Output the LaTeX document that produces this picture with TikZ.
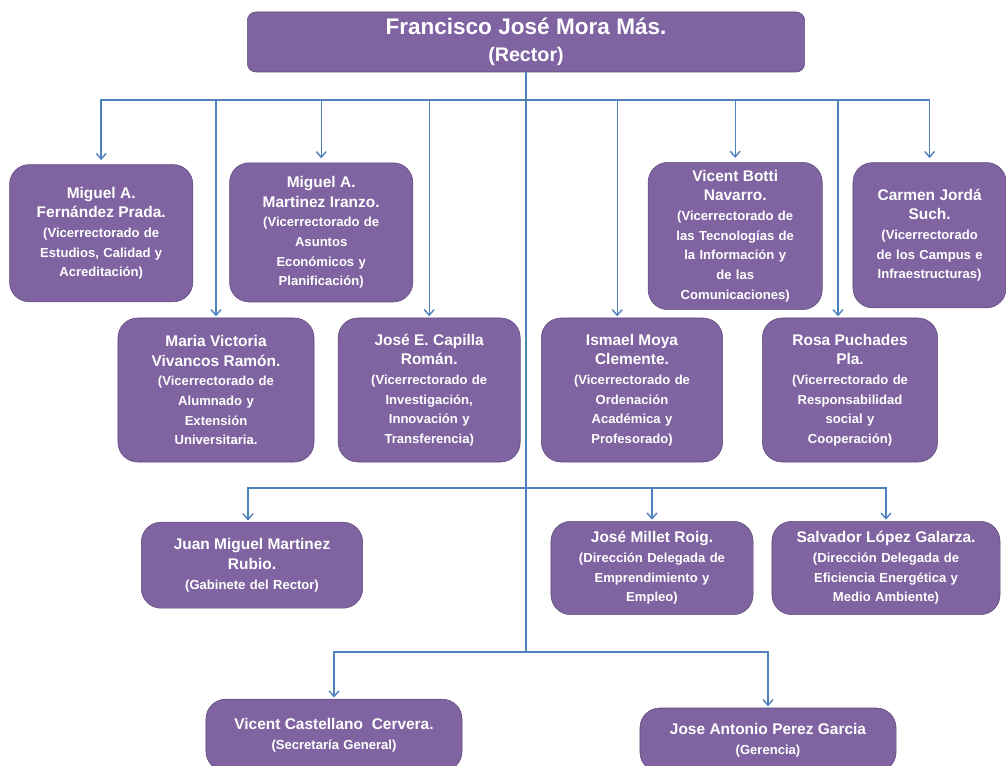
\documentclass[tikz,border=0pt]{standalone}
\usepackage{fontspec}
\setmainfont{Liberation Sans}
\usetikzlibrary{arrows.meta, positioning}
\definecolor{boxpurple}{RGB}{128, 100, 162}
\definecolor{boxedge}{RGB}{96, 74, 125}
\definecolor{lineblue}{RGB}{79, 129, 189}
\newcommand{\nombre}[1]{{\fontsize{11}{14}\selectfont #1}}
\newcommand{\cargo}[1]{{\fontsize{9.3}{14}\selectfont #1}}
\tikzset{
  puesto/.style={draw=boxedge, fill=boxpurple, rounded corners=14pt, text=white, align=center, inner sep=4pt, font=\bfseries\fontsize{9.3}{14}\selectfont},
  enlace/.style={draw=lineblue, line width=1pt},
  flecha/.style={enlace, -{Straight Barb[length=4pt,width=7pt]}, shorten >=3pt},
}

\begin{document}
\begin{tikzpicture}
  \useasboundingbox (0, 0) rectangle (25.15, -19.15);

  % Rector
  \node[puesto, rounded corners=6pt, text width=13.65cm, minimum height=1.5cm, font=\bfseries\fontsize{14}{19}\selectfont] (rector) at (13.15, -1.05) {
    {\fontsize{16}{19}\selectfont Francisco José Mora Más.}\\(Rector)
  };

  % Vicerrectorados, primera fila
  \node[puesto, text width=4.3cm, minimum height=3.43cm] (fernandez) at (2.53, -5.83) {
    \nombre{Miguel A.\\Fernández Prada.}\\\cargo{(Vicerrectorado de\\Estudios, Calidad y\\Acreditación)}
  };
  \node[puesto, text width=4.3cm, minimum height=3.48cm] (martinez) at (8.03, -5.81) {
    \nombre{Miguel A.\\Martinez Iranzo.}\\\cargo{(Vicerrectorado de\\Asuntos\\Económicos y\\Planificación)}
  };
  \node[puesto, text width=4.07cm, minimum height=3.68cm] (botti) at (18.38, -5.9) {
    \nombre{Vicent Botti\\Navarro.}\\\cargo{(Vicerrectorado de\\las Tecnologías de\\la Información y\\de las\\Comunicaciones)}
  };
  \node[puesto, text width=3.55cm, minimum height=3.63cm] (jorda) at (23.24, -5.88) {
    \nombre{Carmen Jordá\\Such.}\\\cargo{(Vicerrectorado\\de los Campus e\\Infraestructuras)}
  };

  % Vicerrectorados, segunda fila
  \node[puesto, text width=4.62cm, minimum height=3.6cm] (vivancos) at (5.4, -9.75) {
    \nombre{Maria Victoria\\Vivancos Ramón.}\\\cargo{(Vicerrectorado de\\Alumnado y\\Extensión\\Universitaria.}
  };
  \node[puesto, text width=4.27cm, minimum height=3.6cm] (capilla) at (10.73, -9.75) {
    \nombre{José E. Capilla\\Román.}\\\cargo{(Vicerrectorado de\\Investigación,\\Innovación y\\Transferencia)}
  };
  \node[puesto, text width=4.25cm, minimum height=3.6cm] (moya) at (15.8, -9.75) {
    \nombre{Ismael Moya\\Clemente.}\\\cargo{(Vicerrectorado de\\Ordenación\\Académica y\\Profesorado)}
  };
  \node[puesto, text width=4.1cm, minimum height=3.6cm] (puchades) at (21.25, -9.75) {
    \nombre{Rosa Puchades\\Pla.}\\\cargo{(Vicerrectorado de\\Responsabilidad\\social y\\Cooperación)}
  };

  % Gabinete y direcciones delegadas
  \node[puesto, text width=5.25cm, minimum height=2.15cm] (gabinete) at (6.3, -14.13) {
    \nombre{Juan Miguel Martinez\\Rubio.}\\\cargo{(Gabinete del Rector)}
  };
  \node[puesto, text width=4.77cm, minimum height=2.33cm] (millet) at (16.3, -14.2) {
    \nombre{José Millet Roig.}\\\cargo{(Dirección Delegada de\\Emprendimiento y\\Empleo)}
  };
  \node[puesto, text width=5.42cm, minimum height=2.33cm] (lopez) at (22.15, -14.2) {
    \nombre{Salvador López Galarza.}\\\cargo{(Dirección Delegada de\\Eficiencia Energética y\\Medio Ambiente)}
  };

  % Secretaria y gerencia
  \node[puesto, text width=6.12cm, minimum height=1.8cm] (secretaria) at (8.35, -18.38) {
    \nombre{Vicent Castellano\ \ Cervera.}\\\cargo{(Secretaría General)}
  };
  \node[puesto, text width=6.12cm, minimum height=1.6cm] (gerencia) at (19.2, -18.5) {
    \nombre{Jose Antonio Perez\ Garcia}\\\cargo{(Gerencia)}
  };

  % Conectores
  \coordinate (bus1) at (13.15, -2.5);
  \coordinate (bus2) at (13.15, -12.2);
  \coordinate (bus3) at (13.15, -16.3);
  \draw[enlace] (rector.south) -- (bus3);

  \draw[flecha] (bus1) -| (fernandez.north);
  \draw[flecha] (bus1) -| (martinez.north);
  \draw[flecha] (bus1) -| (botti.north);
  \draw[flecha] (bus1) -| (jorda.north);
  \draw[flecha, shorten >=1pt] (bus1) -| (vivancos.north);
  \draw[flecha, shorten >=1pt] (bus1) -| (capilla.north);
  \draw[flecha, shorten >=1pt] (bus1) -| ([xshift=-0.37cm]moya.north);
  \draw[flecha, shorten >=1pt] (bus1) -| ([xshift=-0.3cm]puchades.north);

  \draw[flecha, shorten >=1pt] (bus2) -| ([xshift=-0.1cm]gabinete.north);
  \draw[flecha, shorten >=1pt] (bus2) -| (millet.north);
  \draw[flecha, shorten >=1pt] (bus2) -| (lopez.north);

  \draw[flecha, shorten >=1pt] (bus3) -| (secretaria.north);
  \draw[flecha, shorten >=1pt] (bus3) -| (gerencia.north);
\end{tikzpicture}
\end{document}
